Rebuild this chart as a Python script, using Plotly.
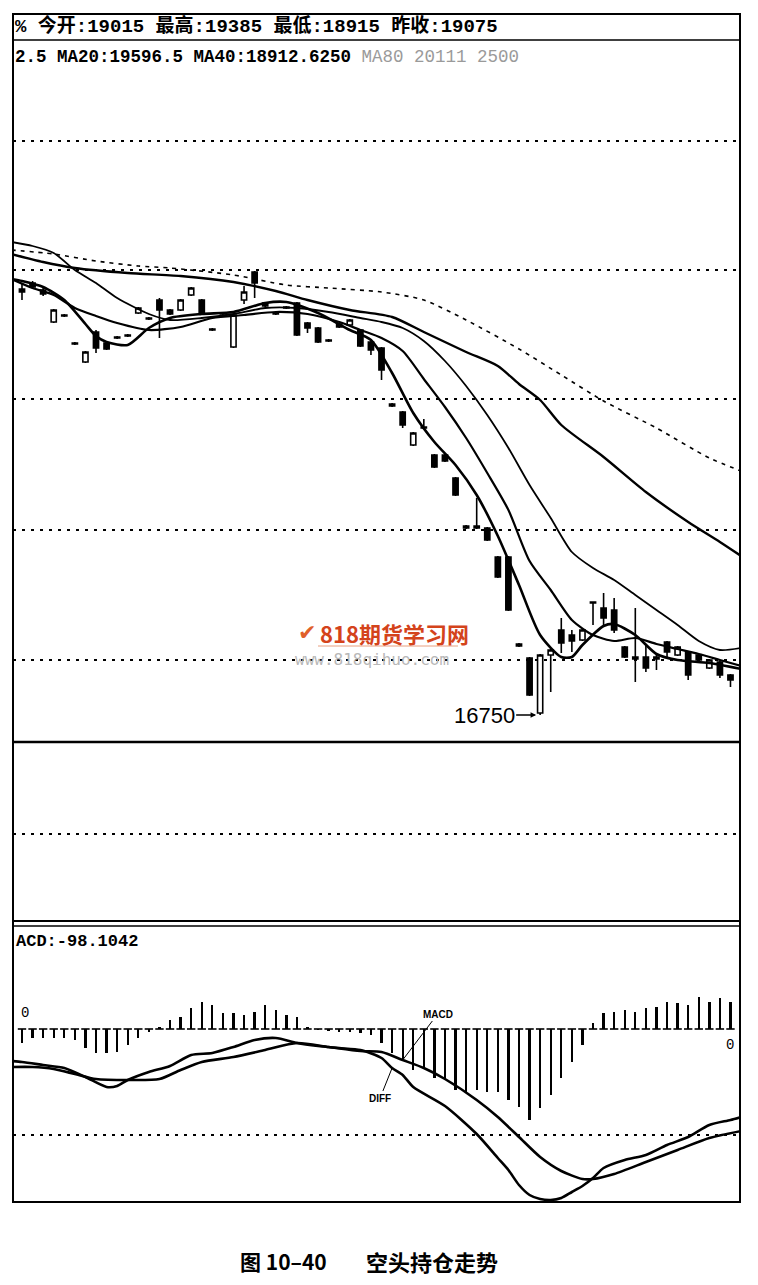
import plotly.graph_objects as go

# --- values (price units, MACD units) ---
days = list(range(68))

open_prices = [18454, 18478, 18450, 18322, 18350, 18238, 18162, 18282, 18238, 18262,
               18270, 18358, 18338, 18410, 18370, 18370, 18430, 18410, 18294, 18350,
               18222, 18410, 18522, 18398, 18358, 18382, 18398, 18318, 18298, 18250,
               18314, 18310, 18290, 18242, 18218, 17994, 17962, 17830, 17902, 17790,
               17790, 17698, 17506, 17506, 17498, 17382, 17382, 17034, 16978, 16758,
               16990, 17090, 17070, 17050, 17202, 17178, 17170, 17022, 16982, 16982,
               16982, 17042, 16990, 17002, 16990, 16938, 16962, 16910]
high_prices = [18474, 18486, 18458, 18374, 18354, 18242, 18206, 18290, 18242, 18266,
               18274, 18382, 18342, 18418, 18374, 18414, 18462, 18414, 18298, 18354,
               18354, 18466, 18526, 18402, 18362, 18386, 18402, 18322, 18302, 18254,
               18318, 18334, 18294, 18246, 18222, 17998, 17966, 17882, 17934, 17794,
               17794, 17702, 17510, 17618, 17502, 17386, 17386, 17038, 16982, 16994,
               17014, 17138, 17090, 17094, 17202, 17238, 17218, 17026, 17178, 17030,
               16990, 17046, 17026, 17006, 16994, 16974, 16966, 16914]
low_prices = [18410, 18454, 18426, 18318, 18342, 18230, 18158, 18198, 18210, 18254,
              18262, 18354, 18330, 18258, 18350, 18366, 18426, 18354, 18286, 18342,
              18218, 18394, 18418, 18382, 18350, 18374, 18266, 18278, 18238, 18242,
              18298, 18306, 18222, 18190, 18090, 17982, 17898, 17826, 17894, 17738,
              17762, 17626, 17494, 17494, 17446, 17298, 17166, 17022, 16826, 16750,
              16842, 16998, 17002, 17046, 17110, 17102, 17078, 16978, 16882, 16922,
              16930, 16982, 16986, 16890, 16958, 16934, 16898, 16862]
close_prices = [18442, 18462, 18434, 18370, 18346, 18234, 18202, 18218, 18214, 18258,
                18266, 18378, 18334, 18370, 18354, 18410, 18458, 18358, 18290, 18346,
                18350, 18442, 18478, 18386, 18354, 18378, 18270, 18298, 18242, 18246,
                18302, 18330, 18226, 18210, 18130, 17986, 17910, 17878, 17898, 17742,
                17766, 17630, 17498, 17498, 17450, 17302, 17170, 17026, 16830, 16990,
                17010, 17038, 17046, 17090, 17198, 17138, 17090, 16982, 16974, 16938,
                16974, 17002, 17022, 16910, 16970, 16970, 16910, 16890]

ma5_days = [-1, 0, 2, 4, 6, 7, 8, 10, 12, 14, 17, 20, 23, 25, 28, 31, 33, 35, 37, 39,
            41, 43, 45, 47, 49, 51, 52, 53, 55, 56, 58, 60, 62, 65, 68]
ma5_values = [18494, 18486, 18462, 18410, 18314, 18266, 18242, 18230, 18298, 18338,
              18354, 18362, 18398, 18402, 18358, 18290, 18250, 18118, 17958, 17842,
              17750, 17630, 17466, 17270, 17070, 16982, 16982, 17030, 17106, 17114,
              17070, 16994, 16970, 16958, 16934]

ma10_days = [-1, 1, 3, 5, 7, 9, 12, 15, 18, 21, 24, 27, 30, 32, 34, 36, 38, 40, 42, 44,
             46, 48, 50, 52, 54, 56, 58, 60, 62, 64, 66, 68]
ma10_values = [18494, 18458, 18430, 18378, 18346, 18318, 18290, 18302, 18338, 18350,
               18362, 18354, 18322, 18290, 18258, 18206, 18094, 17982, 17858, 17718,
               17570, 17366, 17250, 17130, 17070, 17046, 17058, 17034, 17014, 16994,
               16970, 16946]

ma20_days = [-1, 1, 3, 5, 7, 9, 12, 14, 17, 20, 23, 26, 29, 32, 34, 36, 38, 40, 42, 44,
             46, 48, 50, 52, 54, 56, 58, 60, 62, 64, 66, 68]
ma20_values = [18642, 18626, 18598, 18530, 18478, 18418, 18354, 18330, 18338, 18354,
               18378, 18378, 18362, 18338, 18322, 18298, 18246, 18166, 18066, 17950,
               17818, 17670, 17538, 17402, 17338, 17290, 17230, 17170, 17110, 17046,
               17010, 17018]

ma40_days = [-1, 2, 5, 10, 15, 20, 24, 27, 31, 35, 38, 42, 45, 47, 49, 51, 55, 59, 63, 66, 68]
ma40_values = [18594, 18562, 18538, 18518, 18506, 18482, 18446, 18410, 18370, 18342,
               18282, 18202, 18146, 18074, 18010, 17910, 17782, 17642, 17522, 17442, 17386]

ma80_days = [-1, 3, 7, 11, 14, 20, 25, 29, 34, 38, 42, 47, 51, 55, 60, 65, 68]
ma80_values = [18610, 18594, 18566, 18546, 18538, 18510, 18470, 18458, 18442, 18410,
               18330, 18214, 18110, 18006, 17898, 17778, 17726]

macd_hist = [-14, -9, -9, -9, -9, -11, -19, -24, -24, -23,
             -16, -9, -3, 2, 9, 12, 21, 27, 24, 16,
             16, 14, 17, 24, 19, 14, 12, 2, -1, -2,
             -3, -3, -4, -6, -14, -24, -32, -41, -38, -49,
             -51, -61, -63, -61, -63, -63, -71, -78, -91, -79,
             -66, -49, -33, -16, 6, 16, 17, 19, 17, 21,
             22, 27, 26, 24, 32, 27, 31, 27]

diff_days = [-1, 0, 2, 4, 6, 8, 9, 10, 12, 14, 16, 18, 20, 22, 24, 26, 28, 30, 32, 34,
             35, 36, 37, 40, 43, 45, 46, 47, 48, 49, 50, 51, 52, 53, 54, 55, 57, 59, 61,
             63, 65, 67, 68]
diff_values = [-32, -33, -36, -39, -48, -58, -57, -51, -43, -37, -26, -24, -18, -11, -9,
               -14, -17, -19, -21, -29, -39, -46, -58, -77, -105, -129, -141, -156, -166,
               -170, -171, -169, -163, -157, -149, -139, -131, -126, -116, -108, -96, -91, -88]

dea_days = [-1, 1, 3, 5, 7, 10, 13, 15, 17, 20, 23, 26, 29, 32, 34, 36, 38, 40, 43, 45,
            47, 49, 51, 53, 54, 56, 59, 62, 65, 68]
dea_values = [-38, -38, -40, -45, -50, -51, -50, -41, -33, -28, -21, -14, -18, -22, -23,
              -31, -39, -50, -71, -88, -108, -128, -142, -150, -150, -145, -133, -121,
              -109, -102]

price_grid = [16970, 17490, 18014, 18530, 19046]
volume_grid = [87]
macd_grid = [-106]

low_day = 49
low_price = 16750

header_text = "% 今开:19015 最高:19385 最低:18915 昨收:19075"
ma_text = "2.5 MA20:19596.5 MA40:18912.6250"
ma_faint_text = "MA80 20111 2500"
macd_text = "ACD:-98.1042"
caption_left = "图 10–40"
caption_right = "空头持仓走势"


# --- page geometry (pixels of the 758 x 1285 page; the page body adds an 8px margin) ---
PAGE_W, PAGE_H = 758, 1285
BODY_MARGIN = 8
FIG_W, FIG_H = PAGE_W - 2 * BODY_MARGIN, PAGE_H - 2 * BODY_MARGIN
LEFT, RIGHT = 13, 740


def paper_x(px):
    return (px - BODY_MARGIN) / FIG_W


def paper_y(py):
    return 1 - (py - BODY_MARGIN) / FIG_H


MONO = "Liberation Mono, Noto Sans CJK SC, monospace"
INK = "black"

fig = go.Figure()

# moving averages sit behind the candles
ma_styles = [
    (ma80_days, ma80_values, 1.6, "4px,5px"),
    (ma40_days, ma40_values, 2.4, "solid"),
    (ma20_days, ma20_values, 1.8, "solid"),
    (ma10_days, ma10_values, 2.2, "solid"),
    (ma5_days, ma5_values, 2.6, "solid"),
]
for ma_x, ma_y, width, dash in ma_styles:
    fig.add_trace(go.Scatter(
        x = ma_x, y = ma_y, mode = "lines",
        line = {"color": INK, "width": width, "dash": dash, "shape": "spline", "smoothing": 0.7},
        hoverinfo = "skip", showlegend = False,
    ))

fig.add_trace(go.Candlestick(
    x = days, open = open_prices, high = high_prices, low = low_prices, close = close_prices,
    increasing = {"line": {"color": INK, "width": 1.6}, "fillcolor": "white"},
    decreasing = {"line": {"color": INK, "width": 1.6}, "fillcolor": INK},
    whiskerwidth = 0, showlegend = False,
))

# MACD panel: thin histogram sticks with a small foot on the zero line
fig.add_trace(go.Bar(
    x = days, y = macd_hist, width = 0.22, marker = {"color": INK, "line": {"width": 0}},
    xaxis = "x3", yaxis = "y3", showlegend = False,
))
fig.add_trace(go.Scatter(
    x = days, y = [0] * len(days), mode = "markers", xaxis = "x3", yaxis = "y3",
    marker = {"symbol": "line-ew", "size": 6, "line": {"color": INK, "width": 1.6}},
    hoverinfo = "skip", showlegend = False,
))
fig.add_trace(go.Scatter(
    x = diff_days, y = diff_values, mode = "lines", xaxis = "x3", yaxis = "y3",
    line = {"color": INK, "width": 2.6, "shape": "spline", "smoothing": 0.7},
    showlegend = False,
))
fig.add_trace(go.Scatter(
    x = dea_days, y = dea_values, mode = "lines", xaxis = "x3", yaxis = "y3",
    line = {"color": INK, "width": 2.6, "shape": "spline", "smoothing": 0.7},
    showlegend = False,
))

x_domain = [paper_x(LEFT), paper_x(RIGHT)]
x_range = [-0.85, 67.9]
x_common = dict(domain = x_domain, range = x_range, showgrid = False, zeroline = False,
                showticklabels = False, showline = False, ticks = "")
grid_style = dict(showgrid = True, gridcolor = INK, gridwidth = 1.6, griddash = "3px,6px",
                  zeroline = False, showticklabels = False, showline = False, ticks = "")

fig.update_layout(
    width = FIG_W, height = FIG_H,
    margin = {"l": 0, "r": 0, "t": 0, "b": 0},
    paper_bgcolor = "white", plot_bgcolor = "white",
    showlegend = False, bargap = 0,
    xaxis = dict(x_common, anchor = "y", rangeslider = {"visible": False}),
    xaxis2 = dict(x_common, anchor = "y2", matches = "x"),
    xaxis3 = dict(x_common, anchor = "y3", matches = "x"),
    yaxis = dict(grid_style, domain = [paper_y(742), paper_y(40)], range = [16642, 19450],
                 tickvals = price_grid),
    yaxis2 = dict(grid_style, domain = [paper_y(921), paper_y(742)], range = [0, 179],
                  tickvals = volume_grid),
    yaxis3 = dict(grid_style, domain = [paper_y(1202), paper_y(927)], range = [-173, 102],
                  tickvals = macd_grid),
)

# invisible anchor so the volume panel is drawn
fig.add_trace(go.Scatter(x = [0], y = [0], xaxis = "x2", yaxis = "y2", mode = "markers",
                         marker = {"opacity": 0}, hoverinfo = "skip", showlegend = False))

# frame of the trading software window
frame = [
    dict(type = "rect", x0 = paper_x(LEFT), x1 = paper_x(RIGHT), y0 = paper_y(1202), y1 = paper_y(14),
         line = {"color": INK, "width": 2}),
]
for py, w in [(40, 1.6), (742, 2.6), (921, 2), (926, 1.6)]:
    frame.append(dict(type = "line", x0 = paper_x(LEFT), x1 = paper_x(RIGHT), y0 = paper_y(py),
                      y1 = paper_y(py), line = {"color": INK, "width": w}))
# watermark underline
frame.append(dict(type = "line", x0 = paper_x(318), x1 = paper_x(458), y0 = paper_y(646),
                  y1 = paper_y(646), line = {"color": "#e8a080", "width": 1}))
for shape in frame:
    shape.update(xref = "paper", yref = "paper")
    fig.add_shape(**shape)


def note(text, px, py, size, family = MONO, color = INK, anchor = "left"):
    fig.add_annotation(text = text, x = paper_x(px), y = paper_y(py), xref = "paper", yref = "paper",
                       xanchor = anchor, yanchor = "middle", showarrow = False,
                       font = {"family": family, "size": size, "color": color})


note("<b>" + header_text + "</b>", 13, 26, 19)
note("<b>" + ma_text + "</b> <span style='color:#9a9a9a'>" + ma_faint_text + "</span>", 13, 57, 17.5)
note("<b>" + macd_text + "</b>", 14, 942, 17)
note("0", 19, 1013, 14)
note("0", 724, 1045, 14)

# watermark
note("<b>✔</b>", 296, 633, 22, "DejaVu Sans", "#e0602a")
note("<b>818期货学习网</b>", 318, 633, 22, "Noto Sans CJK SC", "#d4431b")
note("www.818qihuo.com", 293, 659, 16, "DejaVu Sans Mono", "#b8b8b8")

# caption
note("<b>" + caption_left + "</b>", 238, 1261, 21, "Noto Sans CJK SC")
note("<b>" + caption_right + "</b>", 364, 1261, 22, "Noto Sans CJK SC")

# lowest price marker
fig.add_annotation(
    x = low_day, y = low_price, xref = "x", yref = "y", text = str(low_price),
    showarrow = True, ax = -56, ay = 0, arrowhead = 2, arrowsize = 0.8, arrowwidth = 1.4,
    arrowcolor = INK, standoff = 4,
    font = {"family": "Liberation Sans, Arial", "size": 22, "color": INK},
)
# DIFF / MACD line labels
fig.add_annotation(
    x = 36, y = dea_values[dea_days.index(36)], xref = "x3", yref = "y3", text = "<b>MACD</b>",
    showarrow = True, ax = 35, ay = -46, arrowhead = 0, arrowwidth = 1, arrowcolor = INK,
    font = {"family": "Liberation Sans", "size": 10, "color": INK},
)
fig.add_annotation(
    x = 35, y = diff_values[diff_days.index(35)], xref = "x3", yref = "y3", text = "<b>DIFF</b>",
    showarrow = True, ax = -12, ay = 30, arrowhead = 0, arrowwidth = 1, arrowcolor = INK,
    font = {"family": "Liberation Sans", "size": 10, "color": INK},
)

fig.write_html("out.html")
